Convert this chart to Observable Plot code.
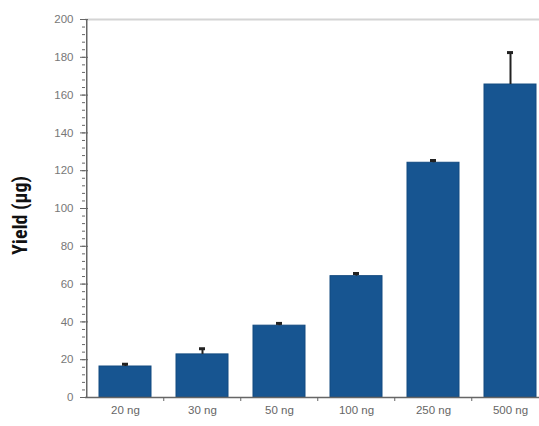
<!DOCTYPE html>
<html>
<head>
<meta charset="utf-8">
<script src="https://cdn.jsdelivr.net/npm/d3@7"></script>
<script src="https://cdn.jsdelivr.net/npm/@observablehq/plot@0.6"></script>
<style>
  html, body { margin: 0; padding: 0; background: #fff; }
  #chart { width: 539px; height: 426px; overflow: hidden; }
</style>
</head>
<body>
<div id="chart"></div>
<script>
const categories = ["20 ng", "30 ng", "50 ng", "100 ng", "250 ng", "500 ng"];
const yields = [16.4, 22.8, 38, 64.2, 124.2, 165.6];
const errorTops = [17.6, 25.8, 39.2, 65.6, 125.4, 182.5];
const majorTicks = [0, 20, 40, 60, 80, 100, 120, 140, 160, 180, 200];
const minorTicks = d3.range(0, 201, 4);
const yTitle = "Yield (µg)";

const data = categories.map((c, i) => ({cat: c, value: yields[i], err: errorTops[i]}));

const chart = Plot.plot({
  width: 539,
  height: 426,
  marginTop: 19,
  marginBottom: 29,
  marginLeft: 85,
  marginRight: 0,
  style: {fontFamily: "Liberation Sans, Arial, sans-serif", fontSize: "11px", color: "#555", background: "#fff"},
  x: {domain: categories, range: [85, 550], paddingInner: 0.32, paddingOuter: 0.16, label: null},
  y: {domain: [0, 200], label: null},
  marks: [
    Plot.ruleY([200], {stroke: "#d4d4d4", strokeWidth: 2}),
    Plot.barY(data, {x: "cat", y: "value", fill: "#175591", stroke: "#124a80", strokeWidth: 1}),
    Plot.ruleX(data, {x: "cat", y1: "value", y2: "err", stroke: "#222", strokeWidth: 2}),
    Plot.tickY(data, {x: "cat", y: "err", stroke: "#222", strokeWidth: 3, inset: 23}),
    Plot.axisY({ticks: minorTicks, tickSize: 3, text: null, stroke: "#666"}),
    Plot.axisY({ticks: majorTicks, tickSize: -3, text: null, stroke: "#666"}),
    Plot.axisY({ticks: majorTicks, tickSize: 5, tickPadding: 7, stroke: "#666", fill: "#777", fontSize: 11.5}),
    Plot.ruleX([0], {x: () => categories[0], dx: -38.75, y1: 0, y2: 200, stroke: "#666", strokeWidth: 1.5}),
    Plot.ruleY([0], {stroke: "#666", strokeWidth: 1.5}),
    Plot.ruleX(categories.slice(1), {x: d => d, y1: 0, y2: 0, dx: -38.75, insetBottom: -4, stroke: "#666"}),
    Plot.axisX({tickSize: 0, tickPadding: 8, fill: "#666", fontSize: 11.5}),
    Plot.text([yTitle], {frameAnchor: "left", textAnchor: "middle", dx: -65, dy: 7, rotate: -90, fontWeight: "bold", fontSize: 20, fill: "#111",
      fontFamily: "Liberation Sans Narrow, Roboto Condensed, sans-serif"})
  ]
});
document.getElementById("chart").append(chart);
</script>
</body>
</html>
